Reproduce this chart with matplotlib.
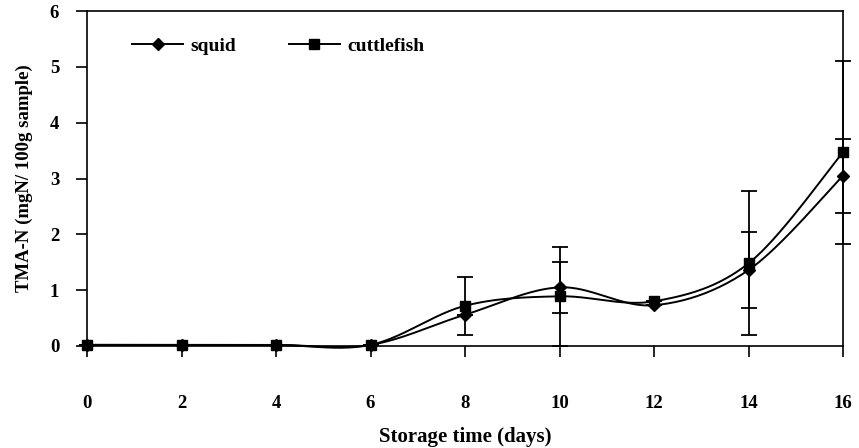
import numpy as np
import matplotlib
matplotlib.use("Agg")
from matplotlib import pyplot as plt
from matplotlib.lines import Line2D

days = [0, 2, 4, 6, 8, 10, 12, 14, 16]
squid = [0.02, 0.02, 0.02, 0.02, 0.56, 1.05, 0.73, 1.36, 3.05]
squid_err = [0, 0, 0, 0, 0, 0.46, 0, 0.68, 0.66]
cuttlefish = [0.02, 0.02, 0.02, 0.02, 0.72, 0.89, 0.80, 1.48, 3.47]
cuttlefish_err = [0, 0, 0, 0, 0.52, 0.89, 0, 1.29, 1.64]


def smooth_curve(x, y, steps=40):
    # spreadsheet-style smoothed line: cubic Bezier through every point
    x = np.asarray(x, float)
    y = np.asarray(y, float)
    n = len(x)
    xs, ys = [], []
    t = np.linspace(0, 1, steps)
    for i in range(n - 1):
        p0 = np.array([x[i], y[i]])
        p3 = np.array([x[i + 1], y[i + 1]])
        prev = np.array([x[max(i - 1, 0)], y[max(i - 1, 0)]])
        nxt = np.array([x[min(i + 2, n - 1)], y[min(i + 2, n - 1)]])
        p1 = p0 + (p3 - prev) / 6
        p2 = p3 - (nxt - p0) / 6
        b = ((1 - t) ** 3)[:, None] * p0 + (3 * (1 - t) ** 2 * t)[:, None] * p1 \
            + (3 * (1 - t) * t ** 2)[:, None] * p2 + (t ** 3)[:, None] * p3
        xs.extend(b[:, 0])
        ys.extend(b[:, 1])
    return xs, ys


plt.rcParams["font.family"] = ["Liberation Serif", "DejaVu Serif"]
plt.rcParams["font.weight"] = "bold"

fig = plt.figure(figsize=(8.59, 4.48), dpi=100)
ax = fig.add_axes([0.1013, 0.2277, 0.8801, 0.7477])

for values, errs, marker in [(squid, squid_err, "D"), (cuttlefish, cuttlefish_err, "s")]:
    sx, sy = smooth_curve(days, values)
    ax.plot(sx, sy, color="black", linewidth=1.4, zorder=3, clip_on=False)
    ax.errorbar(days, values, yerr=errs, fmt="none", ecolor="black",
                elinewidth=1.3, capsize=6, capthick=1.3, zorder=2, clip_on=False)
    ax.plot(days, values, linestyle="none", marker=marker, color="black",
            markersize=7 if marker == "s" else 6.5, zorder=4, clip_on=False)

ax.set_xlim(0, 16)
ax.set_ylim(0, 6)
ax.set_xticks(range(0, 17, 2))
ax.set_yticks(range(0, 7))
for spine in ax.spines.values():
    spine.set_linewidth(1.2)
ax.tick_params(axis="x", direction="out", length=8, width=1.2, pad=27, labelsize=13.5)
ax.tick_params(axis="y", direction="out", length=8, width=1.2, pad=12, labelsize=13.5)

ax.set_xlabel("Storage time (days)", fontsize=15, fontweight="bold", labelpad=11)
ax.set_ylabel("TMA-N (mgN/ 100g sample)", fontsize=13.5, fontweight="bold", labelpad=12)

handles = [
    Line2D([], [], color="black", linewidth=1.4, marker="D", markersize=6.5),
    Line2D([], [], color="black", linewidth=1.4, marker="s", markersize=7),
]
ax.legend(handles, ["squid", "cuttlefish"], loc="upper left", ncol=2, frameon=False,
          bbox_to_anchor=(0.037, 0.975), handlelength=2.6, handletextpad=0.4,
          columnspacing=2.7, prop={"size": 14, "weight": "bold"})

fig.savefig("out.png", dpi=100)
